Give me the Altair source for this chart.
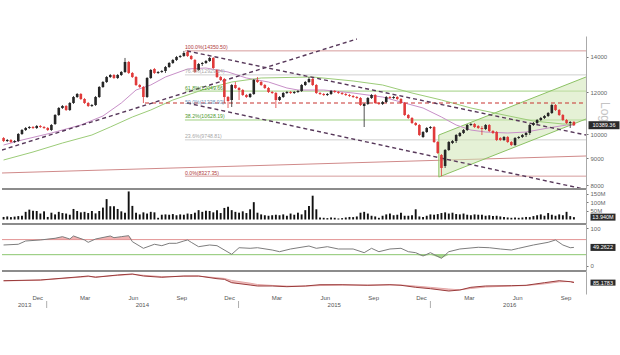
import altair as alt
import pandas as pd

FONT = "Liberation Sans"
W = 584

# ---------------- weekly candles (QE index) ----------------
week_start = "2013-10-11"
opens = [9827, 9700, 9742, 9658, 9700, 10000, 10175, 10264, 10309, 10264,
         10354, 10309, 10264, 10175, 10444, 10861, 11196, 11294, 11099, 11442,
         11744, 11899, 11643, 11442, 11294, 11343, 11744, 12266, 12535, 12811,
         12923, 12755, 12923, 13092, 13675, 13036, 12811, 12373, 12266, 11744,
         12755, 13264, 13036, 13092, 13149, 13380, 13615, 13794, 13975, 14036,
         14282, 14036, 13794, 13207, 13556, 13615, 13734, 13915, 13207, 12811,
         12700, 11744, 11592, 12373, 12213, 12107, 11847, 11744, 11899, 12645,
         12535, 12373, 12213, 12002, 11950, 11592, 11744, 11950, 12002, 11950,
         12002, 12055, 12373, 12535, 12700, 12373, 11950, 11899, 11847, 11899,
         12055, 12002, 11950, 11899, 11847, 11796, 11744, 11694, 11294, 11393,
         11694, 11847, 11442, 11393, 11492, 11744, 11694, 11744, 11643, 11442,
         10861, 10720, 10490, 10399, 9870, 10087, 10264, 10309, 9658, 9128,
         8703, 9328, 9616, 9700, 9913, 10044, 10175, 10399, 10444, 10354,
         10264, 10220, 10399, 10131, 10087, 9827, 9742, 9870, 9658, 9533,
         9827, 9870, 9957, 10044, 10399, 10490, 10627, 10720, 10814, 10956,
         11343, 11099, 10861, 10627, 10490, 10535]
closes = [9700, 9742, 9658, 9700, 10000, 10175, 10264, 10309, 10264, 10354,
          10309, 10264, 10175, 10399, 10861, 11196, 11294, 11099, 11442, 11744,
          11899, 11643, 11442, 11294, 11343, 11744, 12266, 12535, 12811, 12923,
          12755, 12923, 13092, 13675, 13036, 12811, 12373, 12266, 11744, 12755,
          13207, 13036, 13092, 13149, 13380, 13615, 13794, 13975, 14036, 14220,
          14036, 13854, 13092, 13556, 13615, 13734, 13915, 13322, 12811, 12645,
          11744, 11542, 12373, 12213, 12107, 11847, 11744, 11899, 12645, 12535,
          12373, 12213, 12002, 11950, 11592, 11744, 11950, 12002, 11950, 12002,
          12055, 12373, 12535, 12700, 12373, 11950, 11899, 11847, 11899, 12055,
          12002, 11950, 11899, 11847, 11796, 11744, 11694, 11343, 11393, 11694,
          11847, 11442, 11393, 11492, 11744, 11694, 11744, 11643, 11442, 10861,
          10720, 10490, 10399, 9957, 10087, 10264, 10309, 9658, 9208, 8628,
          9328, 9658, 9700, 9957, 10044, 10175, 10399, 10444, 10309, 10264,
          10220, 10399, 10131, 10044, 9742, 9742, 9870, 9658, 9533, 9827,
          9870, 9957, 10044, 10399, 10490, 10627, 10720, 10814, 10956, 11343,
          11099, 10861, 10627, 10490, 10535, 10389.36]
highs = [9870, 9785, 9785, 9742, 10044, 10220, 10309, 10354, 10354, 10399,
         10399, 10354, 10309, 10444, 10908, 11245, 11343, 11343, 11492, 11796,
         11950, 11950, 11694, 11492, 11393, 11796, 12319, 12590, 12867, 12979,
         12979, 12979, 13149, 13915, 13734, 13092, 12867, 12427, 12319, 12811,
         13264, 13322, 13149, 13207, 13439, 13675, 13854, 14036, 14097, 14345,
         14350.5, 14097, 13854, 13615, 13675, 13794, 13975, 13975, 13264, 12867,
         12755, 11796, 12427, 12535, 12266, 12160, 11899, 11950, 12700, 12811,
         12590, 12427, 12266, 12055, 12002, 11796, 12002, 12055, 12055, 12055,
         12107, 12427, 12590, 12811, 12755, 12427, 12002, 11950, 11950, 12107,
         12107, 12055, 12002, 11950, 11899, 11847, 11796, 11744, 11442, 11744,
         11899, 11899, 11492, 11542, 11796, 11796, 11796, 11796, 11694, 11492,
         10908, 10767, 10535, 10444, 10131, 10309, 10354, 10354, 9700, 9168,
         9369, 9700, 9742, 10000, 10087, 10220, 10444, 10490, 10490, 10399,
         10354, 10444, 10444, 10175, 10131, 9870, 9913, 9913, 9700, 9870,
         9913, 10000, 10087, 10444, 10535, 10674, 10767, 10861, 11003, 11393,
         11393, 11148, 10908, 10674, 10581, 10581]
lows = [9658, 9658, 9616, 9616, 9658, 9957, 10131, 10220, 10220, 10220,
        10264, 10220, 10131, 10131, 10399, 10814, 11148, 11051, 11051, 11393,
        11694, 11592, 11393, 11245, 11245, 11294, 11694, 12213, 12481, 12755,
        12700, 12700, 12867, 13036, 12979, 12755, 12319, 12213, 11442, 11694,
        12700, 12979, 12979, 13036, 13036, 13322, 13556, 13734, 13915, 13975,
        13975, 13794, 13036, 13149, 13439, 13556, 13675, 13264, 12755, 12590,
        11442, 11196, 11245, 12160, 11592, 11796, 11694, 11694, 11847, 12481,
        12319, 12160, 11950, 11899, 11196, 11542, 11694, 11899, 11899, 11899,
        11950, 12002, 12319, 12481, 12319, 11899, 11847, 11796, 11796, 11847,
        11950, 11899, 11847, 11796, 11744, 11694, 11643, 11294, 10309, 11343,
        11643, 11393, 11343, 11343, 11442, 11643, 11643, 11592, 11393, 10814,
        10674, 10444, 10354, 9913, 9827, 10044, 10220, 9616, 9168, 8327.35,
        8628, 9288, 9574, 9616, 9870, 10000, 10131, 10354, 10264, 10220,
        9957, 10175, 10087, 10000, 9700, 9700, 9700, 9616, 9492, 9492,
        9785, 9827, 9870, 9957, 10354, 10444, 10581, 10674, 10767, 10908,
        11051, 10814, 10581, 10444, 10264, 10354]
volumes_m = [15, 18, 14, 17, 20, 22, 45, 58, 52, 50,
             35, 48, 15, 40, 30, 45, 38, 35, 28, 62,
             50, 42, 45, 38, 50, 36, 50, 70, 120, 78,
             78, 62, 48, 40, 165, 80, 40, 30, 42, 35,
             45, 42, 10, 28, 30, 28, 32, 25, 30, 28,
             35, 32, 40, 55, 45, 52, 50, 42, 55, 38,
             68, 75, 55, 45, 40, 48, 38, 60, 102, 40,
             30, 25, 22, 25, 28, 25, 30, 22, 35, 28,
             40, 30, 55, 80, 140, 60, 12, 10, 8, 12,
             10, 6, 8, 12, 15, 14, 18, 40, 45, 35,
             22, 18, 10, 22, 30, 35, 25, 28, 40, 22,
             22, 25, 60, 18, 15, 22, 30, 28, 32, 38,
             42, 35, 40, 32, 30, 35, 28, 25, 30, 28,
             28, 22, 25, 20, 22, 18, 15, 12, 10, 12,
             10, 12, 15, 14, 20, 25, 30, 22, 38, 28,
             22, 30, 25, 45, 20, 13.94]

# moving averages (keyed by week index)
ma_short_idx = [0, 5, 13, 21, 27, 32, 36, 40, 44, 50, 55, 61, 66, 72, 77, 80, 87, 95, 103, 108,
                114, 119, 123, 127, 131, 137, 142, 148, 153, 155]
ma_short_val = [9533, 9742, 10044, 10399, 10814, 11442, 12107, 12373, 12811, 13264, 13322, 13092,
                12755, 12535, 12213, 12107, 12107, 11950, 11744, 11492, 11196, 10767, 10399, 10175,
                10087, 10044, 10087, 10264, 10399, 10399]
ma_long_idx = [0, 8, 16, 24, 29, 35, 40, 46, 54, 62, 70, 84, 95, 103, 111, 119, 127, 136, 144, 152, 155]
ma_long_val = [8932, 9248, 9616, 9957, 10309, 10767, 11099, 11592, 12107, 12535, 12755, 12811,
               12590, 12373, 11950, 11592, 11196, 10861, 10581, 10444, 10444]

# RSI
rsi_idx = [0, 4, 6, 10, 14, 16, 18, 19, 22, 23, 25, 29, 30, 32, 34, 35, 38, 41, 43, 45,
           47, 49, 50, 51, 53, 56, 58, 62, 64, 67, 69, 73, 75, 78, 83, 85, 88, 91, 95, 98,
           100, 102, 105, 108, 110, 112, 114, 116, 119, 121, 124, 129, 132, 135, 138, 140,
           144, 148, 150, 152, 154, 155]
rsi_val = [55.7, 57.6, 66.3, 69, 73.5, 77.8, 71.6, 79.6, 69, 62.8, 71.6, 79.6, 75.1, 77.8, 80.4,
           64.5, 46.9, 57.6, 53.9, 60.2, 60.2, 66.3, 69, 62.8, 51.2, 55.7, 53.9, 31, 48.5, 46.9,
           48.5, 42.4, 37.9, 45.1, 53, 46.9, 51.2, 45.1, 45.1, 35.3, 46.9, 37.9, 45.1, 46.9, 37.9,
           35.3, 26.5, 35.3, 20.4, 37.9, 45.1, 49.6, 48.5, 45.1, 42.4, 46.9, 55.7, 62.8, 69, 55.7,
           48.5, 49.2622]

# MACD
macd_idx = [0, 10, 21, 23, 25, 31, 35, 38, 43, 49, 53, 58, 60, 62, 67, 69, 73, 77, 82, 86,
            92, 99, 105, 108, 112, 116, 121, 124, 127, 131, 138, 142, 147, 151, 154, 155]
macd_val = [170, 201, 347, 378, 321, 423, 467, 378, 321, 378, 378, 259, 232, 81, -21, -65, -65,
            -96, -65, -8, -8, -34, -8, -34, -123, -185, -287, -243, -123, -65, -52, -34, 81, 170,
            125, 85.1783]
signal_val = [160, 195, 330, 355, 340, 405, 450, 410, 350, 365, 372, 300, 270, 180, 60, 0, -40,
              -70, -72, -45, -25, -22, -18, -22, -70, -125, -200, -235, -175, -110, -65, -45, 30,
              120, 135, 120]

# Fibonacci retracement
fib_labels = ["100.0%(14350.50)", "76.4%(12929.04)", "61.8%(12049.66)", "50.0%(11338.93)",
              "38.2%(10628.19)", "23.6%(9748.81)", "0.0%(8327.35)"]
fib_prices = [14350.50, 12929.04, 12049.66, 11338.93, 10628.19, 9748.81, 8327.35]
fib_start = "2014-09-21"
chart_start = "2013-10-08"
chart_end = "2016-10-23"

# drawn trend lines
trend_names = ["rise", "rise", "top", "top", "bottom", "bottom", "base", "base"]
trend_dates = ["2013-10-08", "2015-08-14", "2014-09-25", "2016-10-23",
               "2014-09-25", "2016-10-23", "2013-10-08", "2016-10-23"]
trend_prices = [9328, 15108, 14345, 9957, 11442, 7858, 8442, 9089]
support_start = "2014-07-07"
support_price = 11442

chan_dates = ["2016-01-17", "2016-10-23"]
chan_lo = [8295, 10674]
chan_hi = [9957, 12811]

month_label_dates = ["2013-12-15", "2014-03-15", "2014-06-15", "2014-09-15", "2014-12-15",
                     "2015-03-15", "2015-06-15", "2015-09-15", "2015-12-15", "2016-03-15",
                     "2016-06-15", "2016-09-15"]
month_labels = ["Dec", "Mar", "Jun", "Sep", "Dec", "Mar", "Jun", "Sep", "Dec", "Mar", "Jun", "Sep"]
year_label_dates = ["2013-11-20", "2014-07-02", "2015-07-02", "2016-05-31"]
year_labels = ["2013", "2014", "2015", "2016"]
year_breaks = ["2014-01-01", "2015-01-01", "2016-01-01"]

# ---------------- tables ----------------
dates = pd.date_range(week_start, periods=len(closes), freq="7D")
candles = pd.DataFrame({"date": dates, "open": opens, "high": highs, "low": lows,
                        "close": closes, "vol": volumes_m})
candles["col"] = ["#262626" if c >= o else "#e03a3a" for o, c in zip(opens, closes)]

ma_df = pd.concat([
    pd.DataFrame({"date": dates[ma_short_idx], "price": ma_short_val, "ma": "short"}),
    pd.DataFrame({"date": dates[ma_long_idx], "price": ma_long_val, "ma": "long"}),
])
rsi_df = pd.DataFrame({"date": dates[rsi_idx], "rsi": rsi_val})
macd_df = pd.DataFrame({"date": dates[macd_idx], "macd": macd_val, "signal": signal_val})

fib_line_colors = ["#d69c9c", "#cfcfcf", "#9fcf80", "rgba(0,0,0,0)", "#9fcf80", "#cfcfcf", "#d69c9c"]
fib_text_colors = ["#b03a3a", "#a8a8a8", "#4f9a2f", "#6f98bd", "#4f9a2f", "#a8a8a8", "#b03a3a"]
fib_df = pd.DataFrame({"price": fib_prices, "label": fib_labels,
                       "start": pd.to_datetime(fib_start), "end": pd.to_datetime(chart_end),
                       "lc": fib_line_colors, "tc": fib_text_colors})
trend_df = pd.DataFrame({"line": trend_names, "date": pd.to_datetime(trend_dates), "price": trend_prices})
support_df = pd.DataFrame({"start": [pd.to_datetime(support_start)], "end": [pd.to_datetime(chart_end)],
                           "price": [support_price]})
chan_df = pd.DataFrame({"date": pd.to_datetime(chan_dates), "lo": chan_lo, "hi": chan_hi})
month_df = pd.DataFrame({"date": pd.to_datetime(month_label_dates), "label": month_labels})
year_df = pd.DataFrame({"date": pd.to_datetime(year_label_dates), "label": year_labels})
ybreak_df = pd.DataFrame({"date": pd.to_datetime(year_breaks)})

# ---------------- scales / helpers ----------------
xscale = alt.Scale(domain=[alt.DateTime(year=2013, month=10, date=8),
                           alt.DateTime(year=2016, month=10, date=23)])


def xenc(field="date"):
    return alt.X(f"{field}:T", scale=xscale, axis=None, title=None)


def raxis(**kw):
    base = dict(orient="right", grid=False, title=None, labelFontSize=6, labelColor="#666",
                labelFont=FONT, tickSize=2, tickColor="#777", domainColor="#aaa",
                labelPadding=2)
    base.update(kw)
    return alt.Axis(**base)


pscale = alt.Scale(type="log", domain=[7875, 15308], nice=False)
paxis = raxis(values=[8000, 9000, 10000, 12000, 14000], format="d")


def yp(field):
    return alt.Y(f"{field}:Q", scale=pscale, axis=paxis, title=None)


def box(value, text, scale, axis, xpos, w, h, fill="#2b2b2b", fg="white", fs=5.5):
    shape = f"M-1,-{h / w:.3f}L1,-{h / w:.3f}L1,{h / w:.3f}L-1,{h / w:.3f}Z"
    d = pd.DataFrame({"v": [value], "t": [text]})
    b = alt.Chart(d).mark_point(shape=shape, size=w * w, filled=True, color=fill, opacity=1).encode(
        x=alt.value(xpos), y=alt.Y("v:Q", scale=scale, axis=axis, title=None))
    t = alt.Chart(d).mark_text(color=fg, fontSize=fs, font=FONT).encode(
        x=alt.value(xpos), y=alt.Y("v:Q", scale=scale, axis=axis, title=None), text="t:N")
    return b + t


# ---------------- main price panel ----------------
chan_fill = alt.Chart(chan_df).mark_area(color="#cfe6b4", opacity=0.55).encode(
    x=xenc(), y=yp("lo"), y2="hi:Q")
chan_lo_line = alt.Chart(chan_df).mark_line(color="#8cc264", strokeWidth=1).encode(x=xenc(), y=yp("lo"))
chan_hi_line = alt.Chart(chan_df).mark_line(color="#8cc264", strokeWidth=1).encode(x=xenc(), y=yp("hi"))
chan_left = alt.Chart(chan_df.iloc[[0]]).mark_rule(color="#8cc264", strokeWidth=1).encode(
    x=xenc(), y=yp("lo"), y2="hi:Q")

fib_rules = alt.Chart(fib_df).mark_rule(strokeWidth=1).encode(
    x=xenc("start"), x2="end:T", y=yp("price"), color=alt.Color("lc:N", scale=None))
fib_text = alt.Chart(fib_df).mark_text(align="left", baseline="bottom", dy=-0.5, fontSize=5.2,
                                      font=FONT).encode(
    x=xenc("start"), y=yp("price"), text="label:N", color=alt.Color("tc:N", scale=None))

ma_lines = alt.Chart(ma_df).mark_line(strokeWidth=1).encode(
    x=xenc(), y=yp("price"),
    color=alt.Color("ma:N", scale=alt.Scale(domain=["short", "long"], range=["#c890c8", "#9ccc78"]),
                    legend=None))

base_line = alt.Chart(trend_df[trend_df.line == "base"]).mark_line(color="#d08a8a", strokeWidth=1).encode(
    x=xenc(), y=yp("price"))
dashed = alt.Chart(trend_df[trend_df.line != "base"]).mark_line(
    color="#57385a", strokeWidth=1.4, strokeDash=[4, 3], clip=True).encode(
    x=xenc(), y=yp("price"), detail="line:N")
support = alt.Chart(support_df).mark_rule(color="#c8322f", strokeWidth=1.2, strokeDash=[4, 3]).encode(
    x=xenc("start"), x2="end:T", y=yp("price"))

wicks = alt.Chart(candles).mark_rule(strokeWidth=0.8).encode(
    x=xenc(), y=yp("low"), y2="high:Q", color=alt.Color("col:N", scale=None))
bodies = alt.Chart(candles).mark_rule(strokeWidth=2.6).encode(
    x=xenc(), y=yp("open"), y2="close:Q", color=alt.Color("col:N", scale=None))

log_text = alt.Chart(pd.DataFrame({"t": ["Log"]})).mark_text(
    angle=90, fontSize=12, color="#c4c4c4", font=FONT).encode(
    x=alt.value(603), y=alt.value(76), text="t:N")

main = alt.layer(
    fib_rules, base_line, chan_fill, chan_lo_line, chan_hi_line, chan_left,
    ma_lines, support, dashed, wicks, bodies, fib_text,
    box(10389.36, "10389.36", pscale, paxis, 602, 31, 8), log_text
).properties(width=W, height=153)

# ---------------- volume panel ----------------
vscale = alt.Scale(domain=[-26.5, 179.4], nice=False, zero=False)
vaxis = raxis(values=[50, 100, 150], labelExpr="datum.value + 'M'")
vol_bars = alt.Chart(candles).mark_rule(strokeWidth=1.9, color="#111").encode(
    x=xenc(), y=alt.Y("vol:Q", scale=vscale, axis=vaxis, title=None), y2=alt.datum(0))
vol_sep = alt.Chart(pd.DataFrame({"a": [0]})).mark_rule(color="#8c8c8c", strokeWidth=2).encode(
    y=alt.value(0))
volume = alt.layer(vol_bars, vol_sep, box(13.94, "13.940M", vscale, vaxis, 601, 25, 7)).properties(
    width=W, height=35)

# ---------------- RSI panel ----------------
rscale = alt.Scale(domain=[-13.3, 111.4], nice=False, zero=False)
raxis_r = raxis(values=[0, 100])
rsi_base = alt.Chart(rsi_df).transform_calculate(
    hi="max(datum.rsi, 70)", lo="min(datum.rsi, 30)", l70="70", l30="30")
rsi_red = rsi_base.mark_area(color="#f2b3b3").encode(
    x=xenc(), y=alt.Y("hi:Q", scale=rscale, axis=raxis_r, title=None), y2="l70:Q")
rsi_green = rsi_base.mark_area(color="#a9d68f").encode(
    x=xenc(), y=alt.Y("lo:Q", scale=rscale, axis=raxis_r, title=None), y2="l30:Q")
ref_df = pd.DataFrame({"v": [70, 30], "c": ["#e39393", "#8cc770"]})
rsi_refs = alt.Chart(ref_df).mark_rule(strokeWidth=1).encode(
    y=alt.Y("v:Q", scale=rscale, axis=raxis_r, title=None), color=alt.Color("c:N", scale=None))
rsi_line = alt.Chart(rsi_df).mark_line(color="#7d7d7d", strokeWidth=1).encode(
    x=xenc(), y=alt.Y("rsi:Q", scale=rscale, axis=raxis_r, title=None))
rsi_sep = alt.Chart(pd.DataFrame({"a": [0]})).mark_rule(color="#8c8c8c", strokeWidth=2).encode(
    y=alt.value(0))
rsi = alt.layer(rsi_red, rsi_green, rsi_refs, rsi_line, rsi_sep,
                box(49.2622, "49.2622", rscale, raxis_r, 601, 25, 7)).properties(width=W, height=47)

# ---------------- MACD panel ----------------
mscale = alt.Scale(domain=[-420, 600], nice=False, zero=False)
maxis = raxis(values=[], ticks=False, labels=False)
month_ticks = []
for yy in (2013, 2014, 2015, 2016):
    for mm in range(1, 13):
        if (yy == 2013 and mm < 11) or (yy == 2016 and mm > 10):
            continue
        month_ticks.append(alt.DateTime(year=yy, month=mm, date=1))
xaxis = alt.Axis(values=month_ticks, labels=False, ticks=True, tickSize=3, tickColor="#999",
                 domainColor="#999", grid=False, title=None)
macd_fill = alt.Chart(macd_df).mark_area(color="#efc0c0").encode(
    x=alt.X("date:T", scale=xscale, axis=xaxis, title=None),
    y=alt.Y("macd:Q", scale=mscale, axis=maxis, title=None), y2="signal:Q")
macd_sig = alt.Chart(macd_df).mark_line(color="#e3a6a6", strokeWidth=1).encode(
    x=xenc(), y=alt.Y("signal:Q", scale=mscale, axis=maxis, title=None))
macd_line = alt.Chart(macd_df).mark_line(color="#9a3b3b", strokeWidth=1).encode(
    x=xenc(), y=alt.Y("macd:Q", scale=mscale, axis=maxis, title=None))
macd_sep = alt.Chart(pd.DataFrame({"a": [0]})).mark_rule(color="#8c8c8c", strokeWidth=2).encode(
    y=alt.value(0))
month_text = alt.Chart(month_df).mark_text(fontSize=6, color="#555", font=FONT).encode(
    x=xenc(), y=alt.value(27), text="label:N")
year_text = alt.Chart(year_df).mark_text(fontSize=6, color="#555", font=FONT).encode(
    x=xenc(), y=alt.value(34), text="label:N")
year_sep = alt.Chart(ybreak_df).mark_rule(color="#999", strokeWidth=0.8).encode(
    x=xenc(), y=alt.value(30), y2=alt.value(37))
macd = alt.layer(macd_fill, macd_sig, macd_line, macd_sep, month_text, year_text, year_sep,
                 box(85.1783, "85.1783", mscale, maxis, 601, 25, 6)).properties(width=W, height=23)

chart = alt.vconcat(main, volume, rsi, macd, spacing=0).properties(
    padding={"left": 0, "top": 36, "right": 0, "bottom": 0}, bounds="flush"
).configure(font=FONT, view=alt.ViewConfig(stroke=None))

chart.save("out.html", embed_options={"renderer": "svg", "actions": False})
